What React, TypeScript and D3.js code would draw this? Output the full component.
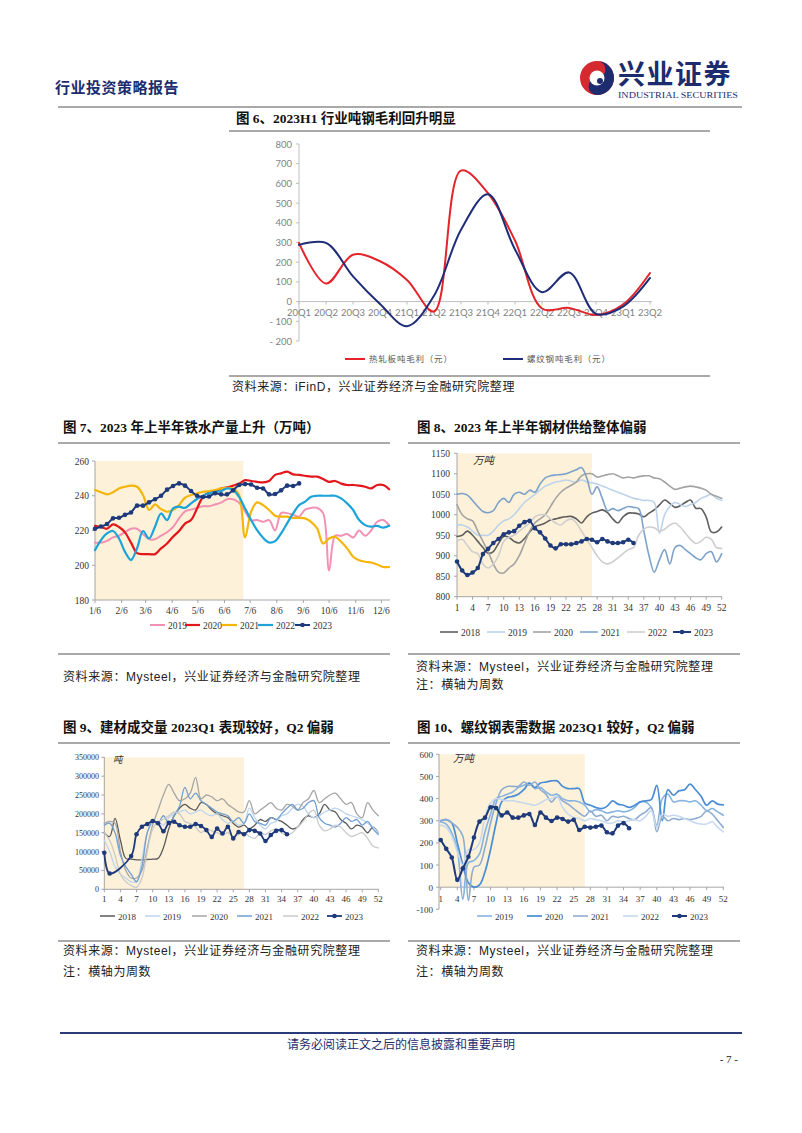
import React from 'react';
import * as d3 from 'd3';

// ---------------- Fig 6 data ----------------
const quarters = ['20Q1','20Q2','20Q3','20Q4','21Q1','21Q2','21Q3','21Q4','22Q1','22Q2','22Q3','22Q4','23Q1','23Q2'];
const hotRolledMargin = [298, 92, 238, 205, 110, -50, 665, 550, 310, -35, -32, -68, -15, 145];
const rebarMargin = [288, 298, 128, -12, -125, 30, 365, 545, 265, 48, 148, -62, -25, 120];
const fig6YTicks = [-200, -100, 0, 100, 200, 300, 400, 500, 600, 700, 800];

// ---------------- Fig 7 data (weekly, 万吨) ----------------
const fig7MonthTicks = ['1/6','2/6','3/6','4/6','5/6','6/6','7/6','8/6','9/6','10/6','11/6','12/6'];
const fig7YTicks = [180, 200, 220, 240, 260];
const hm2019 = [213,213,214,216,217,219,221,221,218,215,215,217,219,222,227,231,232,233,234,234,235,236,238,238,236,231,226,226,225,226,220,230,230,229,228,232,233,233,230,197,217,217,218,216,220,217,220,225,226,223];
const hm2020 = [222.7,222,221,223.5,222,218.9,213,207,206.4,206.4,206.4,209.7,212.5,216.4,219.7,224,226,232.7,239.4,242,242.3,244.2,244.8,245.8,247,249,248.5,248,247.7,248.5,252,252.9,253.9,252.3,252,251.5,251,251,249.6,248,248.5,247,246.2,246.2,245.8,245.2,244.2,246.2,246.2,243.7];
const hm2021 = [243.3,242,240.8,242,244.2,245.2,245.8,245.2,240.4,231.8,235,232.3,230.8,231.8,234.6,238.9,240.4,241.4,242.3,242.7,243.3,244.2,244.6,244.2,240.4,216,230.8,236.2,234.6,231.8,228.5,228,228,227.3,227.3,227,225,221.2,212.5,215.4,216.4,213.5,209.7,204.9,202.9,202,201.6,200.4,199,199];
const hm2022 = [208.7,214.5,218.3,219.7,215.4,207.7,203,209.7,219.7,215.4,222.2,229.8,226,232.7,233.7,233,235.6,238.1,240,241.4,242.3,242.7,244.2,243.3,239.4,232.7,226,220.2,215.8,213.1,213.9,218.3,224.1,229.8,234.6,236.6,239.4,240,240,240,240,238.5,235.6,231.8,226,223.1,222.2,222.7,221.6,222.7];
const hm2023 = [221,222.3,223.7,227,227.3,229,230.4,234.3,234.3,236.2,238,240,243.5,245.6,247.1,245.8,242.7,240,239.3,239.6,241.4,240.8,240.8,243.1,246.2,246.7,246.5,244.6,244.2,240.8,241,243.1,245.8,245.6,247.1];

// ---------------- Fig 8 data (weekly, 万吨) ----------------
const weekTicks = [1,4,7,10,13,16,19,22,25,28,31,34,37,40,43,46,49,52];
const fig8YTicks = [800,850,900,950,1000,1050,1100,1150];
const st2018 = [947,950,960,950,935,920,906,910,930,947,945,935,931,942,958,971,975,980,987,990,993,995,996,990,980,995,1004,1008,1012,1005,990,980,995,1004,1004,1002,995,1004,1012,1024,1036,1028,1018,1022,1030,1036,1016,1015,995,958,958,970];
const st2019 = [975,975,970,960,950,950,950,960,975,985,990,1000,1015,1030,1040,1050,1060,1070,1075,1080,1082,1085,1082,1080,1085,1080,1078,1075,1070,1065,1060,1055,1050,1045,1040,1038,1035,1035,1030,955,1000,1020,1030,1025,1020,1025,1030,1040,1045,1050,1040,1035];
const st2020 = [1025,1000,990,985,960,935,910,880,860,858,870,880,900,930,960,980,990,1000,1020,1040,1055,1065,1072,1080,1095,1100,1100,1092,1095,1098,1100,1095,1090,1092,1090,1093,1095,1095,1090,1088,1080,1070,1062,1065,1068,1070,1068,1065,1060,1050,1045,1040];
const st2021 = [1050,1052,1048,1035,1020,1008,1005,1010,1030,1040,1030,1050,1055,1050,1060,1055,1075,1090,1095,1097,1098,1100,1105,1110,1115,1090,1050,1068,1040,1010,1015,1010,1015,1020,1018,1015,960,900,860,890,915,880,920,925,915,905,895,890,905,910,885,905];
const st2022 = [935,940,925,910,905,880,870,880,900,935,945,950,960,970,980,995,1000,1000,990,980,975,985,990,980,960,940,920,900,885,880,885,895,905,915,920,950,965,970,968,960,965,975,980,970,955,940,930,935,945,940,920,918];
const st2023 = [886,864,853,859,870,904,917,931,941,952,957,960,973,982,985,967,957,942,925,918,928,928,928,931,935,941,939,933,941,935,931,931,933,939,931];

// ---------------- Fig 9 data (weekly, 吨) ----------------
const fig9YTicks = [0,50000,100000,150000,200000,250000,300000,350000];
const bm2018 = [150000,140000,188000,130000,82000,80000,78000,78000,79000,80000,82000,110000,160000,195000,215000,225000,215000,210000,230000,225000,210000,200000,195000,190000,175000,165000,170000,160000,170000,185000,180000,190000,185000,180000,170000,160000,165000,185000,195000,190000,200000,225000,210000,205000,185000,175000,160000,170000,165000,150000,165000,150000];
const bm2019 = [130000,100000,60000,40000,30000,20000,20000,80000,150000,175000,180000,170000,190000,200000,205000,210000,200000,205000,210000,200000,195000,200000,185000,175000,180000,170000,175000,215000,190000,170000,160000,175000,180000,195000,200000,215000,225000,220000,200000,190000,195000,205000,210000,215000,210000,200000,195000,190000,185000,175000,165000,150000];
const bm2020 = [175000,180000,175000,100000,50000,30000,30000,50000,110000,170000,210000,250000,278000,255000,235000,240000,255000,297000,240000,250000,245000,235000,240000,225000,215000,205000,205000,235000,200000,210000,220000,230000,215000,210000,225000,220000,210000,230000,240000,262000,230000,240000,250000,255000,240000,225000,230000,200000,190000,230000,210000,195000];
const bm2021 = [170000,175000,150000,90000,60000,40000,20000,60000,150000,180000,175000,195000,175000,195000,220000,270000,240000,255000,235000,225000,215000,205000,200000,195000,180000,190000,175000,200000,180000,175000,170000,190000,185000,200000,215000,225000,210000,215000,230000,235000,190000,175000,170000,165000,175000,190000,180000,185000,170000,180000,160000,145000];
const bm2022 = [150000,130000,90000,40000,20000,10000,5000,30000,100000,160000,180000,185000,195000,205000,200000,180000,175000,165000,150000,160000,155000,150000,145000,150000,140000,145000,150000,140000,135000,150000,145000,155000,160000,150000,145000,150000,165000,180000,200000,210000,170000,155000,160000,170000,165000,150000,140000,145000,150000,135000,115000,110000];
const bm2023 = [97000,42000,null,null,null,88000,146000,166000,173000,181000,175000,154000,176000,179000,170000,166000,166000,173000,168000,157000,139000,161000,148000,166000,135000,152000,146000,157000,155000,148000,128000,144000,155000,157000,146000];

// ---------------- Fig 10 data (weekly, 万吨) ----------------
const fig10YTicks = [-100,0,100,200,300,400,500,600];
const rb2019 = [295,285,245,170,-55,110,120,150,250,330,400,410,420,430,450,460,470,445,450,430,415,420,400,390,390,385,370,340,350,345,335,340,345,340,345,360,385,385,360,280,400,420,385,390,390,385,390,370,345,355,340,325];
const rb2020 = [300,305,290,200,100,20,0,10,70,170,290,385,405,410,420,440,470,450,470,475,480,480,455,445,445,445,380,370,360,355,365,390,375,370,360,370,385,390,395,460,300,440,415,435,440,465,440,410,370,390,375,372];
const rb2021 = [300,305,290,270,230,-60,90,100,180,290,380,440,455,455,455,475,460,475,440,420,385,410,390,375,355,335,320,345,320,325,300,320,315,320,310,305,325,340,360,250,320,300,310,305,310,305,310,320,345,330,300,270];
const rb2022 = [280,270,230,160,100,170,170,200,320,380,400,395,390,390,385,380,375,370,380,395,400,410,360,330,315,310,300,310,305,300,290,290,300,295,300,305,300,320,345,270,330,320,325,320,310,300,290,285,285,295,270,250];
const rb2023 = [213,173,134,33,85,137,224,296,314,361,357,324,337,314,314,324,330,281,337,314,299,314,308,296,304,258,273,269,273,278,248,243,278,289,266];

// ---------------- shared ----------------
const SERIF = "'Liberation Serif', 'Noto Sans CJK SC', serif";
const CJK = "'Noto Sans CJK SC', sans-serif";
const SRC = "'Liberation Sans', 'Noto Sans CJK SC', sans-serif";
const NAVY = '#1E3A7B';
const SHADE = '#FDF1D9';
const AX = '#A6A6A6';

type Series = { name: string; color: string; width: number; values: (number | null)[]; markers?: boolean };

function linePath(xf: (w: number) => number, yf: (v: number) => number, vals: (number | null)[]) {
  const pts: [number, number][] = [];
  vals.forEach((v, i) => { if (v !== null && v !== undefined) pts.push([xf(i + 1), yf(v)]); });
  return d3.line().curve(d3.curveCatmullRom.alpha(0.5))(pts) || '';
}

function Lines({ series, xf, yf }: any) {
  return (
    <g>
      {series.map((s: Series) => (
        <g key={s.name}>
          <path d={linePath(xf, yf, s.values)} fill="none" stroke={s.color} strokeWidth={s.width} strokeLinejoin="round" strokeLinecap="round" />
          {s.markers && s.values.map((v, i) => v === null ? null : (
            <circle key={i} cx={xf(i + 1)} cy={yf(v)} r={2.3} fill={s.color} />
          ))}
        </g>
      ))}
    </g>
  );
}

function Legend({ series, xs, y, len, size }: any) {
  return (
    <g>
      {series.map((s: Series, i: number) => (
        <g key={s.name}>
          <line x1={xs[i]} x2={xs[i] + len} y1={y} y2={y} stroke={s.color} strokeWidth={Math.max(1.5, s.width)} />
          {s.markers && <circle cx={xs[i] + len / 2} cy={y} r={2.3} fill={s.color} />}
          <text x={xs[i] + len + 3} y={y + 3.5} fontSize={size} fontFamily={SERIF} fill="#333">{s.name}</text>
        </g>
      ))}
    </g>
  );
}

function Title({ x, y, text }: any) {
  return <text x={x} y={y} fontSize={13.5} fontWeight={700} fontFamily={SERIF} fill="#111">{text}</text>;
}

function Rule({ x1, x2, y, color = '#8C8C8C', w = 1.5 }: any) {
  return <line x1={x1} x2={x2} y1={y} y2={y} stroke={color} strokeWidth={w} />;
}

function Source({ x, y, who }: any) {
  return <text x={x} y={y} fontSize={12} fontFamily={SRC} fill="#222" letterSpacing={0.6}>{`资料来源：${who}，兴业证券经济与金融研究院整理`}</text>;
}

function Note({ x, y }: any) {
  return <text x={x} y={y} fontSize={12} fontFamily={SRC} fill="#222" letterSpacing={0.6}>注：横轴为周数</text>;
}

// ---------------- Fig 6 ----------------
function Fig6() {
  const x = d3.scalePoint<string>().domain(quarters).range([299, 650]);
  const y = d3.scaleLinear().domain([-200, 800]).range([341, 144]);
  const xf = (i: number) => x(quarters[i - 1]) as number;
  const series: Series[] = [
    { name: '热轧板吨毛利（元）', color: '#E3242B', width: 2, values: hotRolledMargin },
    { name: '螺纹钢吨毛利（元）', color: '#1F2D78', width: 2, values: rebarMargin },
  ];
  const fmt = (v: number) => (v < 0 ? `- ${-v}` : `${v}`);
  return (
    <g>
      <Title x={236} y={123} text="图 6、2023H1 行业吨钢毛利回升明显" />
      <Rule x1={229} x2={710} y={131} />
      <line x1={299} x2={299} y1={144} y2={341} stroke="#BFBFBF" />
      {fig6YTicks.map(t => (
        <g key={t}>
          <line x1={296} x2={299} y1={y(t)} y2={y(t)} stroke="#BFBFBF" />
          <text x={292} y={y(t) + 3.5} textAnchor="end" fontSize={9.5} fontFamily="Lato, sans-serif" fill="#7F7F7F">{fmt(t)}</text>
        </g>
      ))}
      <line x1={299} x2={652} y1={y(0)} y2={y(0)} stroke="#BFBFBF" />
      {quarters.map(q => (
        <g key={q}>
          <line x1={x(q)} x2={x(q)} y1={y(0)} y2={y(0) + 3} stroke="#BFBFBF" />
          <text x={x(q)} y={315.5} textAnchor="middle" fontSize={9.5} fontFamily="Lato, sans-serif" fill="#7F7F7F">{q}</text>
        </g>
      ))}
      <Lines series={series} xf={xf} yf={y} />
      {series.map((s, i) => (
        <g key={s.name}>
          <line x1={[345, 503][i]} x2={[345, 503][i] + 20} y1={359} y2={359} stroke={s.color} strokeWidth={2} />
          <text x={[345, 503][i] + 24} y={362} fontSize={8.5} fontFamily={CJK} fill="#595959" letterSpacing={0.8}>{s.name}</text>
        </g>
      ))}
      <Rule x1={229} x2={710} y={376} />
      <Source x={232} y={391} who="iFinD" />
    </g>
  );
}

// ---------------- Fig 7 ----------------
function Fig7() {
  const start = new Date(2023, 0, 6);
  const x = d3.scaleTime().domain([start, new Date(2023, 11, 16)]).range([95, 390]);
  const y = d3.scaleLinear().domain([180, 260]).range([600, 461]);
  const xf = (w: number) => x(d3.timeDay.offset(start, 7 * (w - 1)));
  const series: Series[] = [
    { name: '2019', color: '#F291B4', width: 2, values: hm2019 },
    { name: '2020', color: '#E3161B', width: 2.2, values: hm2020 },
    { name: '2021', color: '#F5B50A', width: 2.2, values: hm2021 },
    { name: '2022', color: '#1CA3D8', width: 2.2, values: hm2022 },
    { name: '2023', color: NAVY, width: 2, values: hm2023, markers: true },
  ];
  const tickDate = (s: string) => { const [m, d] = s.split('/').map(Number); return new Date(2023, m - 1, d); };
  return (
    <g>
      <Title x={63} y={432} text="图 7、2023 年上半年铁水产量上升（万吨）" />
      <Rule x1={58} x2={390} y={443} />
      <rect x={95} y={461} width={x(new Date(2023, 5, 28)) - 95} height={139} fill={SHADE} />
      <line x1={95} x2={95} y1={461} y2={600} stroke={AX} />
      <line x1={95} x2={390} y1={600} y2={600} stroke={AX} />
      {fig7YTicks.map(t => (
        <g key={t}>
          <line x1={92} x2={95} y1={y(t)} y2={y(t)} stroke={AX} />
          <text x={89} y={y(t) + 3.5} textAnchor="end" fontSize={9.5} fontFamily={SERIF} fill="#333">{t}</text>
        </g>
      ))}
      {fig7MonthTicks.map(s => (
        <g key={s}>
          <line x1={x(tickDate(s))} x2={x(tickDate(s))} y1={600} y2={603} stroke={AX} />
          <text x={x(tickDate(s))} y={614} textAnchor="middle" fontSize={9.5} fontFamily={SERIF} fill="#333">{s}</text>
        </g>
      ))}
      <Lines series={series} xf={xf} yf={y} />
      <Legend series={series} xs={[150, 185, 222, 258, 295]} y={625} len={15} size={9.5} />
      <Rule x1={58} x2={390} y={654} />
      <Source x={63} y={681} who="Mysteel" />
    </g>
  );
}

// ---------------- Weekly panels ----------------
function Fig8() {
  const x = d3.scaleLinear().domain([1, 52]).range([457, 721.7]);
  const y = d3.scaleLinear().domain([800, 1150]).range([596.7, 453.3]);
  const series: Series[] = [
    { name: '2018', color: '#5E5E5E', width: 1.6, values: st2018 },
    { name: '2019', color: '#BCD3EA', width: 1.6, values: st2019 },
    { name: '2020', color: '#A3A3A3', width: 1.6, values: st2020 },
    { name: '2021', color: '#7DA2CA', width: 1.6, values: st2021 },
    { name: '2022', color: '#CECECE', width: 1.6, values: st2022 },
    { name: '2023', color: NAVY, width: 2, values: st2023, markers: true },
  ];
  return (
    <g>
      <Title x={417} y={432} text="图 8、2023 年上半年钢材供给整体偏弱" />
      <Rule x1={408} x2={740} y={443} />
      <rect x={457} y={453.3} width={x(27) - 457} height={143.4} fill={SHADE} />
      <text x={473} y={464} fontSize={10.5} fontFamily={CJK} fill="#333" fontStyle="italic">万吨</text>
      <line x1={457} x2={457} y1={453} y2={597} stroke={AX} />
      <line x1={457} x2={722} y1={596.7} y2={596.7} stroke={AX} />
      {fig8YTicks.map(t => (
        <g key={t}>
          <line x1={454} x2={457} y1={y(t)} y2={y(t)} stroke={AX} />
          <text x={450} y={y(t) + 3.5} textAnchor="end" fontSize={9.5} fontFamily={SERIF} fill="#333">{t}</text>
        </g>
      ))}
      {weekTicks.map(w => (
        <g key={w}>
          <line x1={x(w)} x2={x(w)} y1={596.7} y2={599.7} stroke={AX} />
          <text x={x(w)} y={611} textAnchor="middle" fontSize={9.5} fontFamily={SERIF} fill="#333">{w}</text>
        </g>
      ))}
      <Lines series={series} xf={x} yf={y} />
      <Legend series={series} xs={[440, 487, 533, 580, 627, 673]} y={632} len={18} size={9.5} />
      <Rule x1={408} x2={740} y={654} />
      <Source x={416} y={671} who="Mysteel" />
      <Note x={416} y={689} />
    </g>
  );
}

function Fig9() {
  const x = d3.scaleLinear().domain([1, 52]).range([104.3, 378.3]);
  const y = d3.scaleLinear().domain([0, 350000]).range([889.3, 757.3]);
  const series: Series[] = [
    { name: '2018', color: '#5A5A5A', width: 1.3, values: bm2018 },
    { name: '2019', color: '#BDD5EC', width: 1.3, values: bm2019 },
    { name: '2020', color: '#A5A5A5', width: 1.3, values: bm2020 },
    { name: '2021', color: '#6F9FD1', width: 1.3, values: bm2021 },
    { name: '2022', color: '#CACACA', width: 1.3, values: bm2022 },
    { name: '2023', color: NAVY, width: 1.8, values: bm2023, markers: true },
  ];
  return (
    <g>
      <Title x={63} y={732} text="图 9、建材成交量 2023Q1 表现较好，Q2 偏弱" />
      <Rule x1={58} x2={390} y={743} />
      <rect x={104.3} y={757.3} width={x(27) - 104.3} height={132} fill={SHADE} />
      <text x={113} y={763} fontSize={9.5} fontFamily={CJK} fill="#333" fontStyle="italic">吨</text>
      <line x1={104.3} x2={104.3} y1={757} y2={889.3} stroke={AX} />
      <line x1={104.3} x2={379} y1={889.3} y2={889.3} stroke={AX} />
      {fig9YTicks.map(t => (
        <g key={t}>
          <line x1={101.3} x2={104.3} y1={y(t)} y2={y(t)} stroke={AX} />
          <text x={99} y={y(t) + 3} textAnchor="end" fontSize={8} fontFamily={SERIF} fill="#333">{t}</text>
        </g>
      ))}
      {weekTicks.map(w => (
        <g key={w}>
          <line x1={x(w)} x2={x(w)} y1={889.3} y2={892.3} stroke={AX} />
          <text x={x(w)} y={901.5} textAnchor="middle" fontSize={9} fontFamily={SERIF} fill="#333">{w}</text>
        </g>
      ))}
      <Lines series={series} xf={x} yf={y} />
      <Legend series={series} xs={[100, 145, 192, 237, 283, 327]} y={916} len={15} size={9} />
      <Rule x1={58} x2={390} y={941} />
      <Source x={63} y={955} who="Mysteel" />
      <Note x={63} y={976} />
    </g>
  );
}

function Fig10() {
  const x = d3.scaleLinear().domain([1, 52]).range([440.7, 723.3]);
  const y = d3.scaleLinear().domain([-100, 600]).range([909.3, 754.3]);
  const series: Series[] = [
    { name: '2019', color: '#86B3E0', width: 1.6, values: rb2019 },
    { name: '2020', color: '#4A8DD3', width: 1.7, values: rb2020 },
    { name: '2021', color: '#8EACCF', width: 1.6, values: rb2021 },
    { name: '2022', color: '#C6D9EE', width: 1.6, values: rb2022 },
    { name: '2023', color: NAVY, width: 2, values: rb2023, markers: true },
  ];
  return (
    <g>
      <Title x={417} y={732} text="图 10、螺纹钢表需数据 2023Q1 较好，Q2 偏弱" />
      <Rule x1={408} x2={740} y={743} />
      <rect x={439} y={754.3} width={x(27) - 439} height={y(0) - 754.3} fill={SHADE} />
      <text x={453} y={762} fontSize={10.5} fontFamily={CJK} fill="#333" fontStyle="italic">万吨</text>
      <line x1={439} x2={439} y1={754} y2={909.3} stroke={AX} />
      <line x1={439} x2={724} y1={y(0)} y2={y(0)} stroke={AX} />
      {fig10YTicks.map(t => (
        <g key={t}>
          <line x1={436} x2={439} y1={y(t)} y2={y(t)} stroke={AX} />
          <text x={433} y={y(t) + 3.5} textAnchor="end" fontSize={9} fontFamily={SERIF} fill="#333">{t}</text>
        </g>
      ))}
      {weekTicks.map(w => (
        <g key={w}>
          <line x1={x(w)} x2={x(w)} y1={y(0)} y2={y(0) + 3} stroke={AX} />
          <text x={x(w)} y={901.5} textAnchor="middle" fontSize={9} fontFamily={SERIF} fill="#333">{w}</text>
        </g>
      ))}
      <Lines series={series} xf={x} yf={y} />
      <Legend series={series} xs={[477, 527, 573, 623, 672]} y={916} len={15} size={9} />
      <Rule x1={408} x2={740} y={941} />
      <Source x={416} y={955} who="Mysteel" />
      <Note x={416} y={976} />
    </g>
  );
}

function Header() {
  return (
    <g>
      <text x={55} y={93} fontSize={15} fontWeight={700} fontFamily={CJK} fill="#1D2C6E" letterSpacing={0.5}>行业投资策略报告</text>
      <circle cx={597} cy={78} r={17} fill="#D42A30" />
      <path d="M597,61 A17,17 0 0 1 597,95 A8.5,8.5 0 0 1 597,78 A8.5,8.5 0 0 0 597,61 Z" fill="#1D2C6E" />
      <circle cx={597} cy={78} r={7.5} fill="#fff" />
      <circle cx={600} cy={81} r={3} fill="#1D2C6E" />
      <text x={618} y={84} fontSize={27} fontWeight={700} fontFamily={CJK} fill="#1D2C6E" letterSpacing={1.5}>兴业证券</text>
      <text x={618} y={97.5} fontSize={7.5} fontFamily={SERIF} fill="#1D2C6E" textLength={120} lengthAdjust="spacingAndGlyphs">INDUSTRIAL SECURITIES</text>
      <Rule x1={58} x2={742} y={107} />
    </g>
  );
}

function Footer() {
  return (
    <g>
      <Rule x1={60} x2={742} y={1033} color="#2B3A78" w={2} />
      <text x={401} y={1049} textAnchor="middle" fontSize={12} fontFamily={CJK} fill="#1D2C6E">请务必阅读正文之后的信息披露和重要声明</text>
      <text x={738} y={1063} textAnchor="end" fontSize={11} fontFamily={SERIF} fill="#222">- 7 -</text>
    </g>
  );
}

export default function App() {
  return (
    <svg width={802} height={1133} viewBox="0 0 802 1133" style={{ position: 'absolute', left: 0, top: 0, background: '#fff' }}>
      <rect x={0} y={0} width={802} height={1133} fill="#fff" />
      <Header />
      <Fig6 />
      <Fig7 />
      <Fig8 />
      <Fig9 />
      <Fig10 />
      <Footer />
    </svg>
  );
}
